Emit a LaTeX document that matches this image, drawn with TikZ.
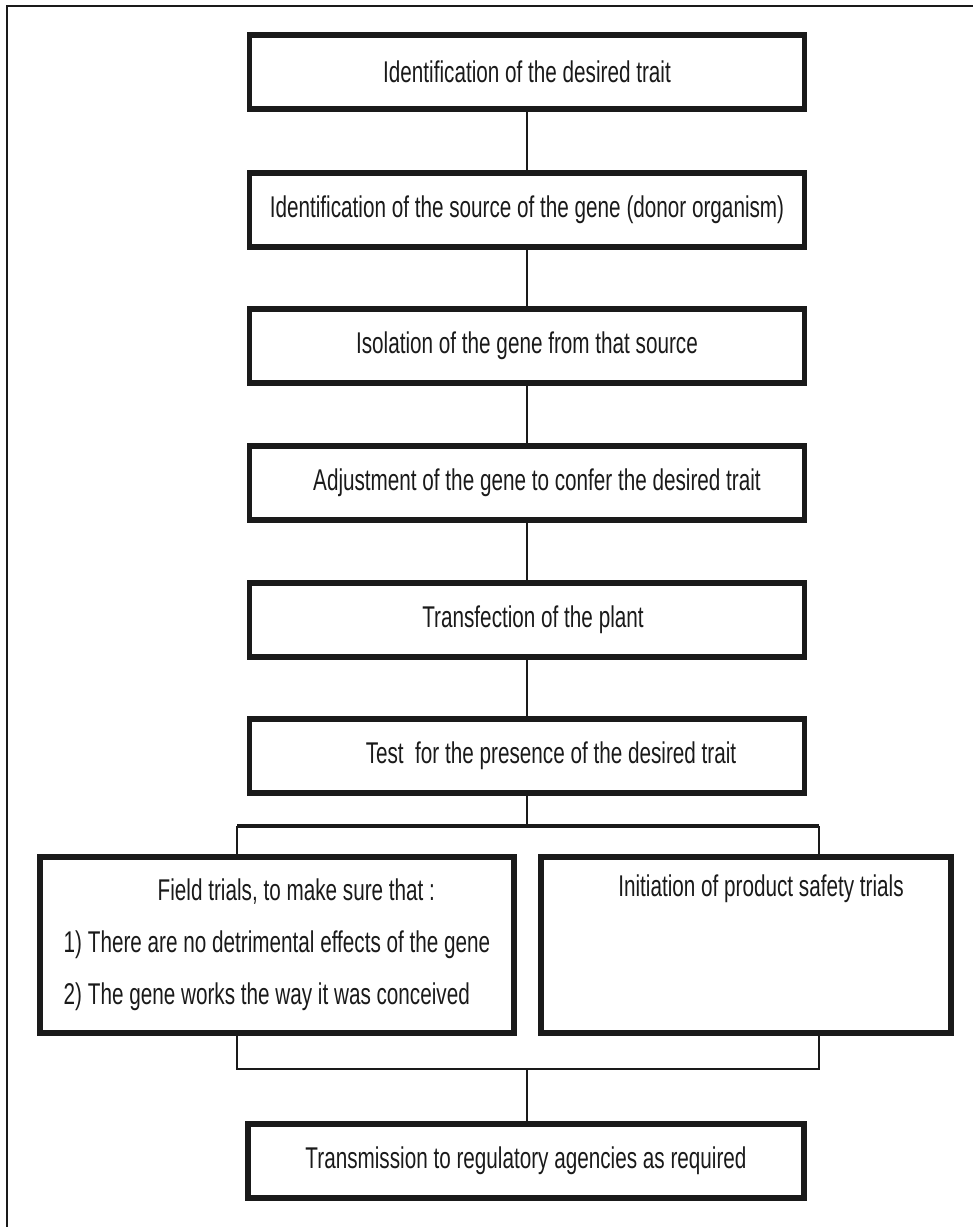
\documentclass[tikz,border=0pt]{standalone}
\usepackage{fontspec}
\setmainfont{Liberation Sans}[FakeStretch=0.69]
\usetikzlibrary{calc}
\definecolor{ink}{HTML}{1A1A1A}

\begin{document}
\begin{tikzpicture}[
  x=0.5pt, y=-0.5pt,
  font=\fontsize{15}{26}\selectfont,
  stepbox/.style={draw=ink, line width=2.6pt, text=ink, align=center,
    minimum width=277.5pt, minimum height=37pt, inner sep=0pt},
  trialbox/.style={stepbox, minimum height=88pt},
  link/.style={draw=ink, line width=1.1pt},
  fork/.style={draw=ink, line width=2pt}
]
\useasboundingbox (0,0) rectangle (973,1227);
\draw[link] (7,1227) -- (7,6) -- (973,6);

\node[stepbox] (trait) at (527,72) {Identification of the desired trait};
\node[stepbox] (donor) at (527,210) {Identification of the source of the gene (donor organism)};
\node[stepbox] (isolation) at (527,346) {Isolation of the gene from that source};
\node[stepbox] (adjustment) at (527,483) {\hspace*{10pt}Adjustment of the gene to confer the desired trait};
\node[stepbox] (transfection) at (527,620) {\hspace*{6pt}Transfection of the plant};
\node[stepbox] (presence) at (527,756) {\hspace*{24pt}Test\ \ for the presence of the desired trait};

\node[trialbox, minimum width=237pt, align=left] (field) at (277,945)
  {\hspace*{47pt}Field trials, to make sure that :\\1) There are no detrimental effects of the gene\\2) The gene works the way it was conceived};
\node[trialbox, minimum width=205pt] (safety) at (746,945) {\hspace*{15pt}Initiation of product safety trials\\ \strut\\ \strut};

\node[stepbox, minimum width=278pt] (transmission) at (526,1161) {Transmission to regulatory agencies as required};

\draw[link] (trait) -- (donor);
\draw[link] (donor) -- (isolation);
\draw[link] (isolation) -- (adjustment);
\draw[link] (adjustment) -- (transfection);
\draw[link] (transfection) -- (presence);

\coordinate (forkL) at (237,826);
\coordinate (forkM) at (527,826);
\coordinate (forkR) at (819,826);
\draw[link] (presence) -- (forkM);
\draw[fork] (forkL) -- (forkR);
\draw[link] (forkL) -- (forkL |- field.north);
\draw[link] (forkR) -- (forkR |- safety.north);

\coordinate (joinL) at (237,1069);
\coordinate (joinM) at (527,1069);
\coordinate (joinR) at (819,1069);
\draw[link] (field.south -| joinL) -- (joinL) -- (joinR) -- (safety.south -| joinR);
\draw[link] (joinM) -- (joinM |- transmission.north);
\end{tikzpicture}
\end{document}
